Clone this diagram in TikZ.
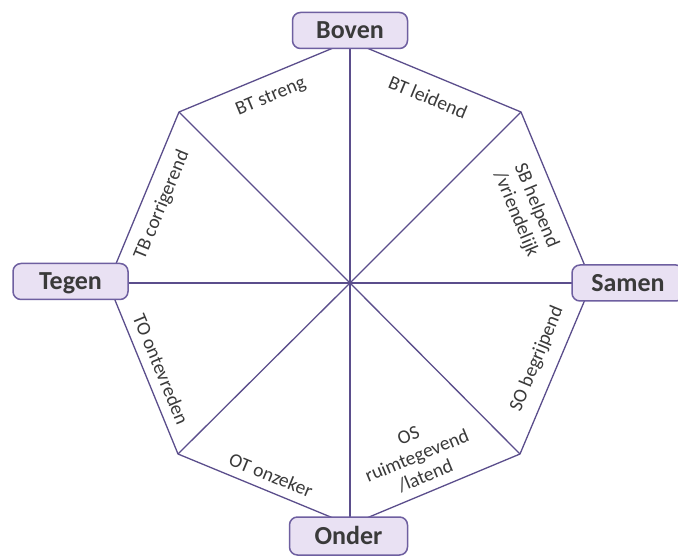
\documentclass[tikz,border=0pt]{standalone}
\usepackage{fontspec}
\setmainfont{Carlito}
\definecolor{linec}{HTML}{5B4E8C}
\definecolor{boxdraw}{HTML}{6E5FA0}
\definecolor{boxfill}{HTML}{E9E1F3}
\definecolor{txt}{HTML}{3A3A3A}
\tikzset{
  edge/.style={draw=linec, line width=1.3pt},
  axisbox/.style={draw=boxdraw, fill=boxfill, line width=1.5pt, rounded corners=8pt,
    minimum width=115pt, minimum height=36pt, inner sep=0pt,
    text height=17pt, text depth=0pt, text=txt,
    font=\fontsize{26}{28}\selectfont\bfseries},
  lbl/.style={text=txt, align=center, inner sep=0pt,
    font=\fontsize{19.5}{22}\selectfont}
}
\begin{document}
\begin{tikzpicture}[x=1pt,y=-1pt]
\useasboundingbox (0,0) rectangle (678,556);
\fill[white] (0,0) rectangle (678,556);
\coordinate (c) at (350,283);
\coordinate (vt) at (350,41);
\coordinate (vtr) at (521,112);
\coordinate (vr) at (592,283);
\coordinate (vbr) at (520,454);
\coordinate (vb) at (350,525);
\coordinate (vbl) at (178,454);
\coordinate (vl) at (108,283);
\coordinate (vtl) at (179,112);
% octagon
\draw[edge] (vt) -- (vtr) -- (vr) -- (vbr) -- (vb) -- (vbl) -- (vl) -- (vtl) -- cycle;
% spokes
\foreach \v in {vt,vtr,vr,vbr,vb,vbl,vl,vtl} \draw[edge] (c) -- (\v);
% boxes
\node[axisbox] (boven) at (350,30.5) {Boven};
\node[axisbox] (tegen) at (70.5,281.5) {Tegen};
\node[axisbox, minimum width=112pt] (samen) at (628,283) {Samen};
\node[axisbox, minimum width=118pt, minimum height=38pt] (onder) at (348.5,536) {Onder};
% labels
\node[lbl, rotate=22.5] (bts) at (271,97) {BT streng};
\node[lbl, rotate=-22.5] (btl) at (428,97) {BT leidend};
\node[lbl, rotate=-67.5] (sbh) at (526,210) {SB helpend\\/vriendelijk};
\node[lbl, rotate=67.5] (sob) at (537,359) {SO begrijpend};
\node[lbl, rotate=22.5] (osr) at (417,456) {OS\\ruimtegevend\\/latend};
\node[lbl, rotate=-22.5] (oto) at (271,475) {OT onzeker};
\node[lbl, rotate=-67.5] (tot) at (161,369) {TO ontevreden};
\node[lbl, rotate=67.5] (tbc) at (162,205) {TB corrigerend};
\end{tikzpicture}
\end{document}
